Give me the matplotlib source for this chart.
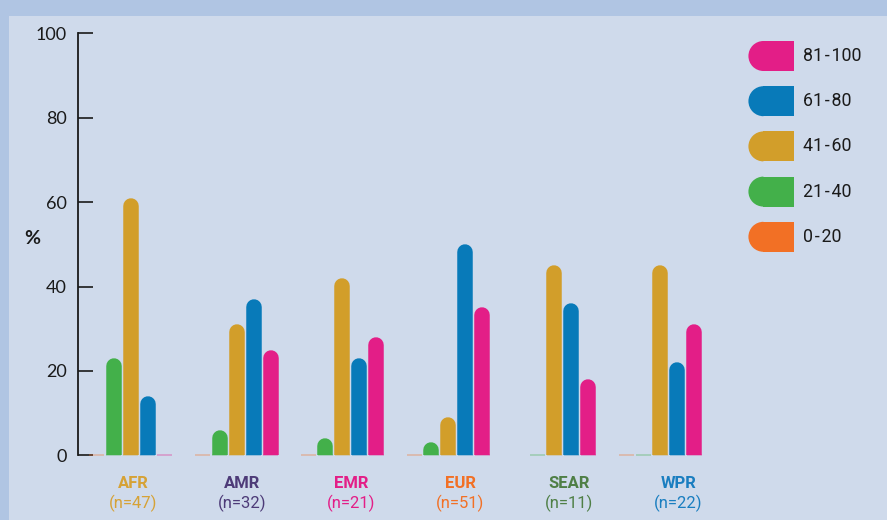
import numpy as np
import matplotlib.pyplot as plt
import matplotlib.transforms as mtransforms
from matplotlib.patches import Rectangle, Wedge

# Data: share of countries (%) per score band, by WHO region
regions = ['AFR', 'AMR', 'EMR', 'EUR', 'SEAR', 'WPR']
sample_sizes = [47, 32, 21, 51, 11, 22]
bands = ['0-20', '21-40', '41-60', '61-80', '81-100']

pct_0_20 = [0, 0, 0, 0, np.nan, 0]
pct_21_40 = [23, 6, 4, 3, 0, 0]
pct_41_60 = [61, 31, 42, 9, 45, 45]
pct_61_80 = [14, 37, 23, 50, 36, 22]
pct_81_100 = [0, 25, 28, 35, 18, 31]

band_values = [pct_0_20, pct_21_40, pct_41_60, pct_61_80, pct_81_100]
band_colors = ['#f27025', '#43b04a', '#d29e2a', '#087ab9', '#e31e87']
region_colors = ['#d6a236', '#4d3b78', '#e31e87', '#f27025', '#4f7f46', '#1a7ec0']

W, H, DPI = 887, 520, 100
bar_px = 15.5          # bar width in pixels
bar_step = 0.1605      # distance between bars inside a group (data units)
label_step = 1.029     # spacing of the region captions (data units)

plt.rcParams['font.family'] = ['Roboto', 'DejaVu Sans']

fig = plt.figure(figsize=(8.875, 5.2), dpi=DPI, facecolor='#b0c5e3')
fig.add_artist(Rectangle((9 / W, 0), 1, (H - 16) / H, transform=fig.transFigure,
                         facecolor='#cfdaeb', edgecolor='none', zorder=0))

ax = fig.add_axes([78 / W, 64.7 / H, 642 / W, 422 / H])
ax.set_facecolor('none')
ax.set_xlim(-0.496, 5.567)
ax.set_ylim(0, 100)

# convert the bar half-width to data units on both axes
p0 = ax.transData.transform((0, 0))
p1 = ax.transData.transform((1, 1))
px_x = p1[0] - p0[0]
px_y = p1[1] - p0[1]
r_y = (bar_px / 2) / px_y
half_w = (bar_px / 2) / px_x
lw_pt = bar_px * 72 / DPI

for j, (vals, col) in enumerate(zip(band_values, band_colors)):
    for i, v in enumerate(vals):
        if np.isnan(v):
            continue
        x = i + (j - 2) * bar_step
        ax.hlines(0, x - half_w, x + half_w, color=col, alpha=0.35, lw=1.2,
                  clip_on=False, zorder=2)
        if v > 0:
            # round-capped bar; cap top sits exactly at the value
            ax.plot([x, x], [0, v - r_y], color=col, lw=lw_pt,
                    solid_capstyle='round', zorder=3)

ax.set_yticks([0, 20, 40, 60, 80, 100])
ax.set_xticks([])
ax.tick_params(axis='y', direction='in', length=10.8, width=1.2, pad=8,
               labelsize=13, colors='#1a1a1a')
for lab in ax.get_yticklabels():
    lab.set_family(['Lato', 'DejaVu Sans'])
for side in ['top', 'right', 'bottom']:
    ax.spines[side].set_visible(False)
ax.spines['left'].set_linewidth(1.3)
ax.spines['left'].set_color('#1a1a1a')

fig.text(32 / W, 1 - 239 / H, '%', fontsize=14, fontweight='bold',
         ha='center', va='center', color='#1a1a1a', family=['Lato', 'DejaVu Sans'])

# region captions under the groups
trans = mtransforms.blended_transform_factory(ax.transData, fig.transFigure)
for i, (name, n, col) in enumerate(zip(regions, sample_sizes, region_colors)):
    x = 0.024 + i * label_step
    ax.text(x, 1 - 483 / H, name, transform=trans, ha='center', va='center',
            fontsize=12, fontweight='bold', color=col, clip_on=False)
    ax.text(x, 1 - 503 / H, f'(n={n})', transform=trans, ha='center', va='center',
            fontsize=12, color=col, clip_on=False)

# legend with half-rounded swatches, drawn in pixel coordinates
lg = fig.add_axes([0, 0, 1, 1])
lg.set_xlim(0, W)
lg.set_ylim(H, 0)
lg.axis('off')
for k, (band, col) in enumerate(zip(bands[::-1], band_colors[::-1])):
    cy = 56 + k * 45.2
    lg.add_patch(Wedge((763, cy), 15, 90, 270, facecolor=col, edgecolor='none'))
    lg.add_patch(Rectangle((762.5, cy - 15), 31.5, 30, facecolor=col, edgecolor='none'))
    lg.text(803, cy, band.replace('-', '\u200a-\u200a'), fontsize=12.8,
            va='center', ha='left', color='#1a1a1a', family=['Roboto', 'DejaVu Sans'])

fig.savefig('out.png', dpi=DPI, facecolor=fig.get_facecolor())
